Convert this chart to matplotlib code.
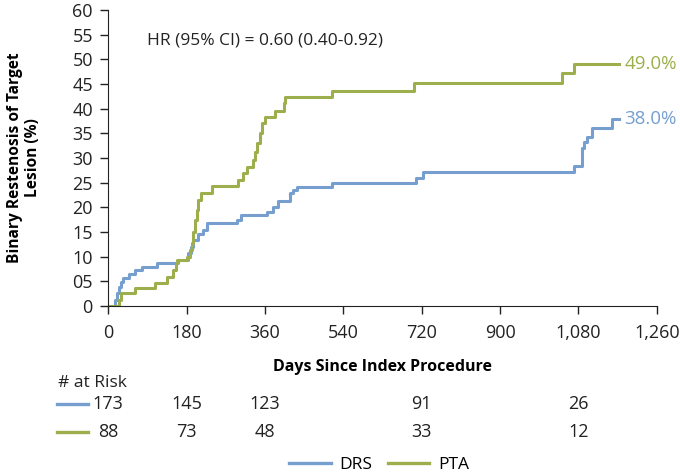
import matplotlib
matplotlib.use("Agg")
import matplotlib.pyplot as plt
from matplotlib.lines import Line2D

plt.rcParams["font.family"] = ["Open Sans", "DejaVu Sans"]

# Kaplan-Meier style step curves (day, cumulative %)
drs_days = [0, 16, 20, 24, 29, 35, 47, 62, 77, 112, 160, 184, 190, 196, 207, 219, 227,
            296, 305, 364, 378, 390, 418, 425, 433, 513, 708, 722, 1070, 1087, 1093,
            1100, 1110, 1157, 1173]
drs_vals = [0, 1.2, 2.6, 3.9, 4.9, 5.6, 6.6, 7.3, 8.0, 8.7, 9.3, 10.7, 12.0, 13.4, 14.7,
            15.4, 16.8, 17.4, 18.5, 19.1, 20.1, 21.2, 22.9, 23.5, 24.2, 24.9, 26.0, 27.2,
            28.3, 32.0, 33.3, 34.3, 36.0, 38.0, 38.0]

pta_days = [0, 24, 30, 62, 108, 135, 150, 155, 158, 182, 188, 192, 196, 200, 204, 207,
            213, 238, 299, 310, 318, 332, 337, 342, 348, 354, 360, 383, 403, 406, 515,
            703, 1042, 1070, 1173]
pta_vals = [0, 1.2, 2.6, 3.6, 4.6, 5.9, 7.3, 8.7, 9.3, 10.0, 11.4, 12.8, 15.0, 17.4,
            19.5, 21.5, 22.9, 24.3, 25.6, 26.9, 28.1, 29.6, 31.3, 33.0, 35.0, 37.0, 38.4,
            39.6, 41.1, 42.3, 43.6, 45.3, 47.2, 49.0, 49.0]

risk_days = [0, 180, 360, 720, 1080]
drs_risk = [173, 145, 123, 91, 26]
pta_risk = [88, 73, 48, 33, 12]

x_ticks = [0, 180, 360, 540, 720, 900, 1080, 1260]
x_labels = ["0", "180", "360", "540", "720", "900", "1,080", "1,260"]
y_ticks = list(range(0, 61, 5))
y_labels = ["0", "05"] + [str(v) for v in range(10, 61, 5)]

blue = "#769fd0"
green = "#9caf4c"
ink = "#222222"

fig = plt.figure(figsize=(6.8, 4.76), dpi=100)
ax = fig.add_axes([0.159, 0.357, 0.807, 0.622])

ax.step(drs_days, drs_vals, where="post", color=blue, lw=2.2)
ax.step(pta_days, pta_vals, where="post", color=green, lw=2.2)

ax.text(drs_days[-1] + 12, drs_vals[-1], f"{drs_vals[-1]:.1f}%", color=blue,
        fontsize=13.5, va="center", ha="left")
ax.text(pta_days[-1] + 12, pta_vals[-1], f"{pta_vals[-1]:.1f}%", color=green,
        fontsize=13.5, va="center", ha="left")
ax.text(89, 53.9, "HR (95% CI) = 0.60 (0.40-0.92)", fontsize=12.5, color=ink,
        va="center", ha="left")

ax.set_xlim(0, 1260)
ax.set_ylim(0, 60)
ax.set_xticks(x_ticks)
ax.set_xticklabels(x_labels)
ax.set_yticks(y_ticks)
ax.set_yticklabels(y_labels)
ax.tick_params(axis="both", labelsize=13, colors=ink, length=6, width=1)
ax.tick_params(axis="x", pad=7)
ax.tick_params(axis="y", pad=5)
for side in ("top", "right"):
    ax.spines[side].set_visible(False)
for side in ("left", "bottom"):
    ax.spines[side].set_color(ink)

ax.set_xlabel("Days Since Index Procedure", fontsize=11.5, fontweight="bold")
ax.xaxis.set_label_coords(0.5, -0.18)
ax.set_ylabel("Binary Restenosis of Target\nLesion (%)", fontsize=11.2,
              fontweight="bold", linespacing=1.15)
ax.yaxis.set_label_coords(-0.122, 0.5)

# number at risk table
fig.text(58 / 680, 1 - 383 / 476, "# at Risk", fontsize=12.5, va="center", ha="left",
         color=ink)
to_fig = fig.transFigure.inverted()
for row_y, counts, color in ((404, drs_risk, blue), (432, pta_risk, green)):
    yf = 1 - row_y / 476
    fig.add_artist(Line2D([57 / 680, 88 / 680], [yf, yf], color=color, lw=2.4))
    for d, n in zip(risk_days, counts):
        xf = to_fig.transform(ax.transData.transform((d, 0)))[0]
        fig.text(xf, yf, str(n), fontsize=13, va="center", ha="center", color=ink)

handles = [Line2D([], [], color=blue, lw=2.4), Line2D([], [], color=green, lw=2.4)]
fig.legend(handles, ["DRS", "PTA"], loc="center", bbox_to_anchor=(379 / 680, 1 - 465 / 476),
           ncol=2, frameon=False, fontsize=12.5, handlelength=2.4, columnspacing=0.9,
           handletextpad=0.5, borderpad=0)

fig.savefig("out.png", dpi=100)
